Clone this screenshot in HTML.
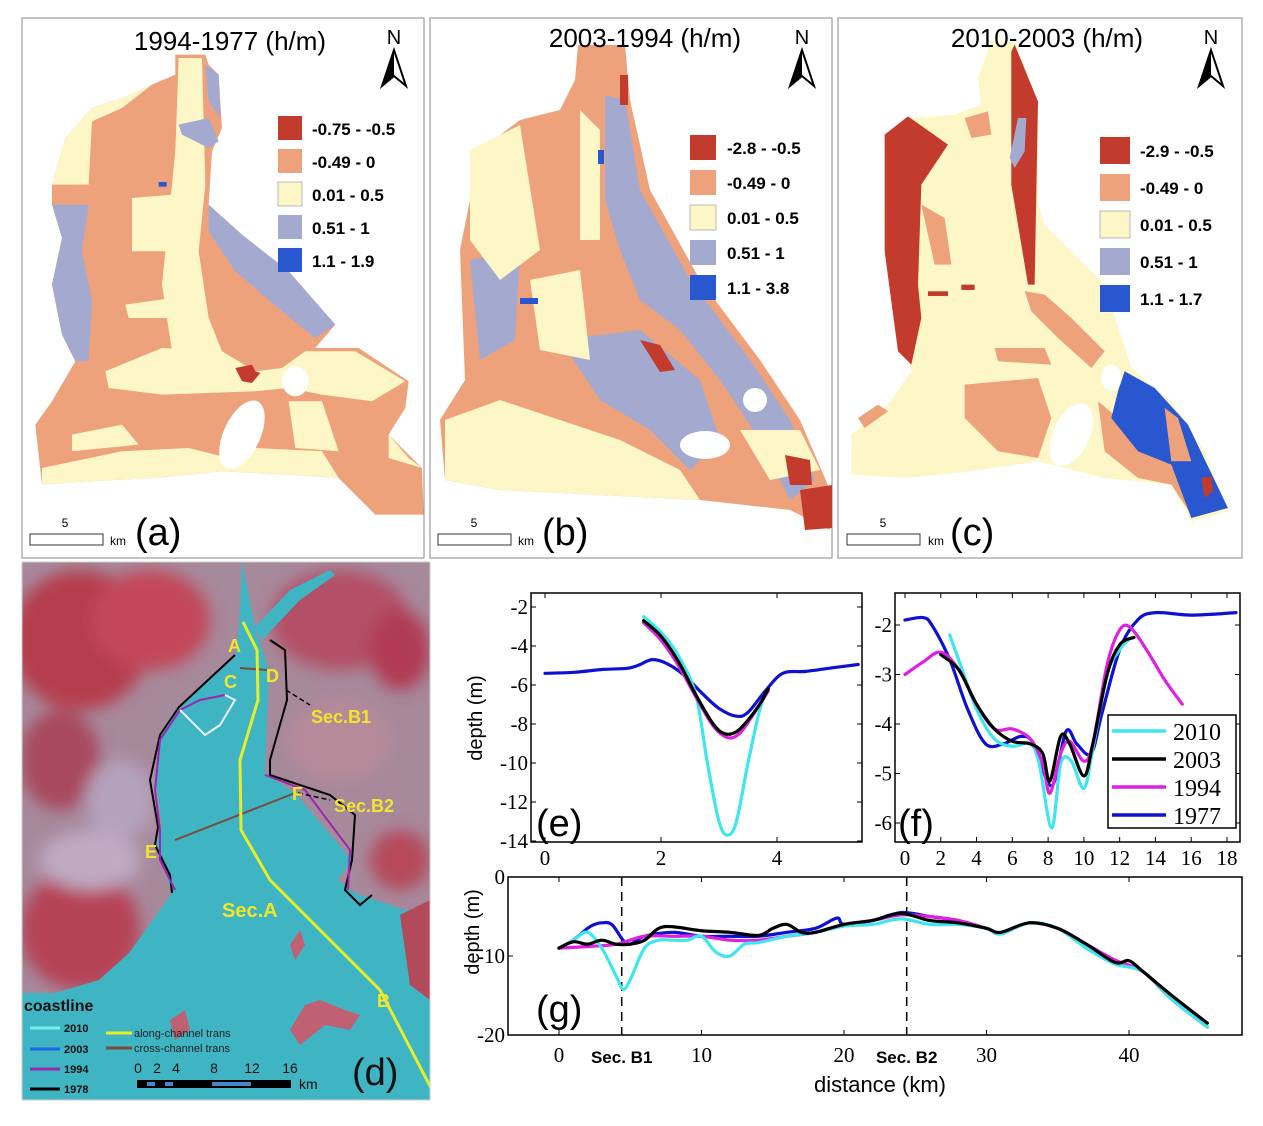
<!DOCTYPE html>
<html><head><meta charset="utf-8"><style>
html,body{margin:0;padding:0;background:#fff}
svg{display:block}
text{font-family:"Liberation Sans",sans-serif}
.serif{font-family:"Liberation Serif",serif}
</style></head><body>
<svg id="root" width="1263" height="1126" viewBox="0 0 1263 1126" xmlns="http://www.w3.org/2000/svg">
<defs>
<filter id="blur8"><feGaussianBlur stdDeviation="8"/></filter>
<clipPath id="clipd"><rect x="22" y="562" width="408" height="538"/></clipPath>
<g id="narrow"><polygon points="0,0 -12,36 0,26 12,36" fill="#fff" stroke="#000" stroke-width="2"/><polygon points="0,0 -12,36 0,26" fill="#000"/></g>
</defs>

<!-- PANEL A -->
<g>
<rect x="22" y="18" width="402" height="540" fill="#fff" stroke="#888" stroke-width="1"/>
<g transform="translate(22,18) scale(0.3333)">
<polygon fill="#eda27c" points="460,110 550,110 560,140 590,170 600,330 570,400 560,560 660,650 800,760 940,920 880,990 1010,990 1160,1090 1150,1170 1100,1250 1200,1350 1205,1490 1060,1490 950,1380 800,1370 600,1360 400,1380 200,1390 60,1400 40,1220 90,1150 160,1030 120,950 90,800 120,660 90,560 90,500 130,360 210,270 300,240 390,200 460,170"/>
<polygon fill="#fdf6c6" points="90,500 130,360 210,270 300,240 390,200 300,270 210,310 200,500"/>
<polygon fill="#fdf6c6" points="470,120 540,120 550,500 530,700 560,900 600,1000 560,1060 450,1000 420,800 440,600 460,400"/>
<polygon fill="#fdf6c6" points="250,1060 420,990 600,1000 700,1060 780,1050 850,1000 1000,1000 1150,1090 1050,1150 900,1130 800,1110 700,1120 420,1130 260,1110"/>
<polygon fill="#fdf6c6" points="330,540 450,530 440,700 330,700"/>
<polygon fill="#fdf6c6" points="310,860 450,840 460,900 320,900"/>
<polygon fill="#fdf6c6" points="60,1350 300,1300 500,1290 620,1320 700,1290 900,1300 950,1380 800,1370 600,1360 400,1380 200,1390 60,1400"/>
<polygon fill="#fdf6c6" points="1100,1250 1160,1320 1200,1350 1100,1320"/>
<polygon fill="#fdf6c6" points="150,1250 300,1220 350,1280 150,1300"/>
<polygon fill="#fdf6c6" points="800,1150 900,1150 950,1300 820,1290"/>
<polygon fill="#a4a9cf" points="560,560 660,650 800,760 940,920 880,960 780,880 640,760 560,640"/>
<polygon fill="#a4a9cf" points="90,560 200,560 180,700 210,850 200,1030 160,1030 120,950 90,800 120,660"/>
<polygon fill="#a4a9cf" points="470,320 560,300 590,370 560,390 480,350"/>
<polygon fill="#a4a9cf" points="550,140 590,170 595,300 560,250"/>
<polygon fill="#c33b2c" points="640,1050 690,1040 700,1060 715,1065 690,1095 660,1090"/>
<rect x="410" y="492" width="24" height="14" fill="#2957cf"/>
<ellipse cx="660" cy="1250" rx="55" ry="110" transform="rotate(25 660 1250)" fill="#fff"/>
<ellipse cx="820" cy="1090" rx="40" ry="45" fill="#fff"/>
</g>
<text x="230" y="50" font-size="26" text-anchor="middle">1994-1977 (h/m)</text>
<text x="394" y="44" font-size="20" text-anchor="middle">N</text>
<use href="#narrow" x="394" y="50"/>
<g font-size="17" font-weight="bold">
<rect x="278" y="116" width="24" height="24" fill="#c33b2c"/><text x="312" y="135">-0.75 - -0.5</text>
<rect x="278" y="149" width="24" height="24" fill="#eda27c"/><text x="312" y="168">-0.49 - 0</text>
<rect x="278" y="182" width="24" height="24" fill="#fdf6c6" stroke="#bbb"/><text x="312" y="201">0.01 - 0.5</text>
<rect x="278" y="215" width="24" height="24" fill="#a4a9cf"/><text x="312" y="234">0.51 - 1</text>
<rect x="278" y="248" width="24" height="24" fill="#2957cf"/><text x="312" y="267">1.1 - 1.9</text>
</g>
<rect x="30" y="534" width="73" height="11" fill="#fff" stroke="#333"/>
<text x="65" y="527" font-size="12" text-anchor="middle">5</text>
<text x="110" y="545" font-size="12">km</text>
<text x="135" y="545" font-size="38">(a)</text>
</g>

<!-- PANEL B -->
<g>
<rect x="430" y="18" width="402" height="540" fill="#fff" stroke="#888"/>
<polygon fill="#eda27c" points="578,45 625,45 630,100 650,190 700,280 760,360 800,420 830,490 830,530 790,510 700,500 600,495 500,490 445,480 440,420 465,380 460,250 480,150 520,120 560,110 575,80"/>
<polygon fill="#a4a9cf" points="605,95 625,100 640,190 690,280 750,360 790,420 815,480 790,500 760,440 720,380 680,330 640,300 620,250 605,200"/>
<polygon fill="#a4a9cf" points="560,340 640,330 700,380 720,440 690,470 650,430 600,400"/>
<polygon fill="#a4a9cf" points="470,260 520,250 515,340 480,360"/>
<polygon fill="#fdf6c6" points="445,420 500,400 560,420 620,440 680,470 700,500 600,495 500,490 445,480"/>
<polygon fill="#fdf6c6" points="470,150 520,125 540,250 500,280 470,240"/>
<polygon fill="#fdf6c6" points="530,280 580,270 590,360 540,350"/>
<polygon fill="#fdf6c6" points="740,430 800,430 820,470 770,480"/>
<polygon fill="#fdf6c6" points="580,110 600,130 600,240 580,240"/>
<ellipse cx="705" cy="445" rx="25" ry="14" fill="#fff"/>
<ellipse cx="755" cy="400" rx="12" ry="12" fill="#fff"/>
<polygon fill="#c33b2c" points="785,455 810,460 812,485 790,485"/>
<polygon fill="#c33b2c" points="800,490 832,485 832,528 805,530"/>
<polygon fill="#c33b2c" points="640,340 660,345 675,370 660,372"/>
<rect x="620" y="75" width="8" height="30" fill="#c33b2c"/>
<rect x="520" y="298" width="18" height="6" fill="#2957cf"/>
<rect x="598" y="150" width="6" height="14" fill="#2957cf"/>
<text x="645" y="47" font-size="26" text-anchor="middle">2003-1994 (h/m)</text>
<text x="802" y="44" font-size="20" text-anchor="middle">N</text>
<use href="#narrow" x="802" y="50"/>
<g font-size="17" font-weight="bold">
<rect x="690" y="135" width="26" height="25" fill="#c33b2c"/><text x="727" y="154">-2.8 - -0.5</text>
<rect x="690" y="170" width="26" height="25" fill="#eda27c"/><text x="727" y="189">-0.49 - 0</text>
<rect x="690" y="205" width="26" height="25" fill="#fdf6c6" stroke="#bbb"/><text x="727" y="224">0.01 - 0.5</text>
<rect x="690" y="240" width="26" height="25" fill="#a4a9cf"/><text x="727" y="259">0.51 - 1</text>
<rect x="690" y="275" width="26" height="25" fill="#2957cf"/><text x="727" y="294">1.1 - 3.8</text>
</g>
<rect x="438" y="534" width="73" height="11" fill="#fff" stroke="#333"/>
<text x="474" y="527" font-size="12" text-anchor="middle">5</text>
<text x="518" y="545" font-size="12">km</text>
<text x="542" y="545" font-size="38">(b)</text>
</g>

<!-- PANEL C -->
<g>
<rect x="838" y="18" width="404" height="540" fill="#fff" stroke="#888"/>
<g transform="translate(838,18) scale(0.3333)">
<polygon fill="#fdf6c6" points="460,70 530,70 600,250 600,560 620,620 800,800 880,1050 1000,1150 1100,1300 1170,1480 1060,1510 1000,1400 800,1380 600,1330 400,1360 200,1380 40,1370 40,1250 150,1160 220,1060 180,900 140,600 160,350 220,300 350,290 430,260 420,180"/>
<polygon fill="#eda27c" points="560,820 620,830 700,900 800,1000 760,1050 660,960 580,880"/>
<polygon fill="#eda27c" points="470,990 620,990 640,1040 480,1030"/>
<polygon fill="#eda27c" points="380,1100 600,1080 640,1200 600,1320 480,1300 380,1200"/>
<polygon fill="#eda27c" points="250,560 320,600 340,740 290,740 270,650"/>
<polygon fill="#eda27c" points="60,1200 120,1160 150,1180 80,1230"/>
<polygon fill="#eda27c" points="780,1150 900,1250 1000,1330 1060,1490 1000,1400 900,1380 800,1300"/>
<polygon fill="#eda27c" points="380,300 450,280 460,350 400,360"/>
<polygon fill="#c33b2c" points="210,295 330,380 250,500 240,800 250,900 220,1040 180,1000 140,700 140,350"/>
<polygon fill="#c33b2c" points="530,80 600,250 590,800 570,800 520,500 520,100"/>
<polygon fill="#a4a9cf" points="540,300 565,300 560,400 530,450 515,420"/>
<polygon fill="#2957cf" points="860,1060 950,1110 1050,1220 1170,1470 1060,1500 1000,1340 900,1300 820,1200 840,1120"/>
<polygon fill="#eda27c" points="980,1170 1020,1200 1060,1330 1000,1330"/>
<polygon fill="#c33b2c" points="1090,1380 1120,1375 1125,1420 1100,1440"/>
<rect x="270" y="820" width="60" height="14" fill="#c33b2c"/>
<rect x="370" y="800" width="40" height="16" fill="#c33b2c"/>
<ellipse cx="700" cy="1250" rx="55" ry="100" transform="rotate(25 700 1250)" fill="#fff"/>
<ellipse cx="820" cy="1080" rx="30" ry="40" fill="#fff"/>
</g>
<text x="1047" y="47" font-size="26" text-anchor="middle">2010-2003 (h/m)</text>
<text x="1211" y="44" font-size="20" text-anchor="middle">N</text>
<use href="#narrow" x="1211" y="50"/>
<g font-size="17" font-weight="bold">
<rect x="1100" y="137" width="30" height="27" fill="#c33b2c"/><text x="1140" y="157">-2.9 - -0.5</text>
<rect x="1100" y="174" width="30" height="27" fill="#eda27c"/><text x="1140" y="194">-0.49 - 0</text>
<rect x="1100" y="211" width="30" height="27" fill="#fdf6c6" stroke="#bbb"/><text x="1140" y="231">0.01 - 0.5</text>
<rect x="1100" y="248" width="30" height="27" fill="#a4a9cf"/><text x="1140" y="268">0.51 - 1</text>
<rect x="1100" y="285" width="30" height="27" fill="#2957cf"/><text x="1140" y="305">1.1 - 1.7</text>
</g>
<rect x="847" y="534" width="73" height="11" fill="#fff" stroke="#333"/>
<text x="883" y="527" font-size="12" text-anchor="middle">5</text>
<text x="928" y="545" font-size="12">km</text>
<text x="950" y="545" font-size="38">(c)</text>
</g>

<!-- PANEL D -->
<g clip-path="url(#clipd)">
<rect x="22" y="562" width="408" height="538" fill="#a7899c"/>
<g filter="url(#blur8)">
<ellipse cx="80" cy="640" rx="70" ry="70" fill="#b53c4e"/>
<ellipse cx="150" cy="620" rx="60" ry="50" fill="#c34658"/>
<ellipse cx="60" cy="760" rx="40" ry="50" fill="#a84a5e"/>
<ellipse cx="80" cy="930" rx="60" ry="60" fill="#b64256"/>
<ellipse cx="120" cy="800" rx="35" ry="40" fill="#b4a2bb"/>
<ellipse cx="90" cy="860" rx="50" ry="30" fill="#bfaac2"/>
<ellipse cx="340" cy="620" rx="70" ry="50" fill="#b35066"/>
<ellipse cx="400" cy="650" rx="30" ry="40" fill="#b13a52"/>
<ellipse cx="340" cy="740" rx="50" ry="40" fill="#b78a9a"/>
<ellipse cx="400" cy="860" rx="30" ry="30" fill="#b64a5c"/>
<ellipse cx="420" cy="960" rx="25" ry="40" fill="#b24a5c"/>
</g>
<polygon fill="#3fb4c3" points="222,560 242,560 239,627 235,657 179,707 162,733 155,777 162,827 155,843 172,893 129,953 99,980 55,993 22,993 22,1100 430,1100 430,910 405,910 355,893 338,880 352,860 295,793 265,773 269,670 255,627 242,560"/>
<polygon fill="#3fb4c3" points="255,627 290,590 330,570 335,575 300,600 262,640"/>
<polygon fill="#c06073" points="290,1030 305,1005 320,1000 345,1010 360,1015 350,1030 325,1025 300,1045"/>
<polygon fill="#c06073" points="170,1020 185,1010 190,1030 175,1040"/>
<polygon fill="#c06073" points="290,945 300,930 305,945 295,960"/>
<polygon fill="#b24a5c" points="400,915 430,900 430,1000 410,985"/>
<polyline fill="none" stroke="#000" stroke-width="2" points="235,655 179,707 160,735 150,780 158,827 155,845 170,875 172,893"/>
<polyline fill="none" stroke="#9c27b0" stroke-width="2" points="225,695 200,700 180,710 160,740 155,790 160,830 160,860 175,890"/>
<polyline fill="none" stroke="#000" stroke-width="2" points="270,640 285,650 287,700 270,760 270,775 330,795 355,815 352,860 345,890 360,905 372,895"/>
<polyline fill="none" stroke="#9c27b0" stroke-width="2" points="265,775 305,790 350,850 348,890"/>
<polyline fill="none" stroke="#e8f3ff" stroke-width="2" points="225,695 235,700 220,725 205,735 180,710"/>
<line x1="175" y1="840" x2="295" y2="793" stroke="#7a4b3a" stroke-width="2"/>
<line x1="240" y1="668" x2="267" y2="670" stroke="#7a4b3a" stroke-width="2"/>
<line x1="286" y1="690" x2="310" y2="705" stroke="#000" stroke-width="1.5" stroke-dasharray="5,3"/>
<line x1="298" y1="793" x2="330" y2="800" stroke="#000" stroke-width="1.5" stroke-dasharray="5,3"/>
<polyline fill="none" stroke="#e6ee2a" stroke-width="3" points="243,622 257,650 258,700 240,760 241,830 270,880 290,900 380,990 432,1090"/>
<g fill="#f2e62a" font-weight="bold" font-size="18">
<text x="228" y="652">A</text><text x="224" y="688">C</text><text x="266" y="682">D</text>
<text x="311" y="723">Sec.B1</text><text x="292" y="800">F</text><text x="334" y="812">Sec.B2</text>
<text x="145" y="858">E</text><text x="222" y="917" font-size="20">Sec.A</text><text x="377" y="1007">B</text>
</g>
<g font-size="11" font-weight="bold" fill="#111">
<text x="24" y="1011" font-size="16">coastline</text>
<line x1="30" y1="1028" x2="60" y2="1028" stroke="#7ee" stroke-width="3"/><text x="64" y="1032">2010</text>
<line x1="30" y1="1049" x2="60" y2="1049" stroke="#1e64e6" stroke-width="3"/><text x="64" y="1053">2003</text>
<line x1="30" y1="1069" x2="60" y2="1069" stroke="#9c27b0" stroke-width="3"/><text x="64" y="1073">1994</text>
<line x1="30" y1="1089" x2="60" y2="1089" stroke="#000" stroke-width="3"/><text x="64" y="1093">1978</text>
<line x1="106" y1="1033" x2="132" y2="1033" stroke="#e6ee2a" stroke-width="3"/><text x="134" y="1037" font-weight="normal" fill="#222">along-channel trans</text>
<line x1="106" y1="1048" x2="132" y2="1048" stroke="#7a4b3a" stroke-width="3"/><text x="134" y="1052" font-weight="normal" fill="#222">cross-channel trans</text>
<g font-weight="normal" font-size="14" text-anchor="middle">
<text x="138" y="1073">0</text><text x="157" y="1073">2</text><text x="176" y="1073">4</text><text x="214" y="1073">8</text><text x="252" y="1073">12</text><text x="290" y="1073">16</text>
</g>
<rect x="137" y="1080" width="154" height="8" fill="#000"/>
<rect x="147" y="1082" width="8" height="4" fill="#48c"/><rect x="165" y="1082" width="8" height="4" fill="#48c"/><rect x="212" y="1082" width="39" height="4" fill="#48c"/>
<text x="299" y="1089" font-weight="normal" font-size="14">km</text>
</g>
<text x="352" y="1085" font-size="38" fill="#111">(d)</text>
</g>
<rect x="22" y="562" width="408" height="538" fill="none" stroke="#ccc"/>

<g id="charts"></g>
</svg>
<script>
// ===== Chart e data =====
const eX2010=[1.7,2.0,2.3,2.6,2.8,3.0,3.15,3.3,3.5,3.7,3.8];
const eY2010=[-2.5,-3.3,-4.5,-6.5,-10,-13,-13.7,-13,-10,-7.3,-6.5];
const eX2003=[1.7,2.0,2.3,2.6,2.9,3.1,3.3,3.5,3.7,3.85];
const eY2003=[-2.7,-3.5,-4.8,-6.5,-8,-8.5,-8.4,-7.8,-7,-6.2];
const eX1994=[1.7,2.0,2.3,2.6,2.9,3.15,3.35,3.55,3.7,3.85];
const eY1994=[-2.8,-3.7,-5,-6.6,-8.1,-8.7,-8.5,-7.7,-7,-6.3];
const eX1977=[0,0.5,1,1.4,1.6,1.85,2.1,2.4,2.7,3.0,3.3,3.5,3.8,4.1,4.5,5,5.4];
const eY1977=[-5.4,-5.35,-5.2,-5.15,-5,-4.7,-4.9,-5.5,-6.4,-7.2,-7.6,-7.4,-6.3,-5.4,-5.3,-5.1,-4.95];
const eXTicks=[0,2,4];
const eYTicks=[-2,-4,-6,-8,-10,-12,-14];
// ===== Chart f data =====
const fX1977=[0,1,1.5,2.5,3.5,4.5,5.5,6.5,7.2,8.2,9,9.6,10.4,11,12,13,14,16,18.5];
const fY1977=[-1.9,-1.85,-2,-2.7,-3.7,-4.4,-4.4,-4.25,-4.4,-5.25,-4.15,-4.4,-4.6,-3.8,-2.5,-1.9,-1.75,-1.8,-1.75];
const fX2010=[2.5,3,4,5,6,7,7.5,8.2,8.7,9.3,10,10.5,11.3,12,12.5];
const fY2010=[-2.2,-2.7,-3.7,-4.3,-4.45,-4.4,-4.8,-6.1,-4.8,-4.75,-5.3,-4.5,-3,-2.5,-2.3];
const fX2003=[2,3,4,5,6,7,7.7,8.1,8.7,9.2,10,10.5,11.3,12,12.8];
const fY2003=[-2.6,-2.9,-3.6,-4.1,-4.35,-4.4,-4.6,-5.15,-4.25,-4.4,-5.05,-4.4,-3,-2.4,-2.25];
const fX1994=[0,1,2,3,4,5,6,7,7.7,8.1,8.7,9.2,10,10.5,11.3,12,12.6,13.5,14.5,15.5];
const fY1994=[-3,-2.75,-2.55,-2.9,-3.6,-4.1,-4.1,-4.3,-4.8,-5.4,-4.6,-4.35,-4.75,-4.4,-2.8,-2.1,-2.05,-2.5,-3.1,-3.6];
const fXTicks=[0,2,4,6,8,10,12,14,16,18];
const fYTicks=[-2,-3,-4,-5,-6];
// ===== Chart g data =====
const gX2010=[0,1,2,3,4,4.5,5,6,7,8,9,10,11,12,13,14,16,18,20,22,24,26,28,30,31,33,35,37,39,41,43,45.5];
const gY2010=[-9,-8,-7,-9,-12.5,-14.2,-13,-9,-8,-8,-8,-7.5,-9.5,-10,-8.5,-8.3,-7.5,-7,-6.2,-6,-5.3,-6,-6,-6.5,-7.2,-5.8,-6.5,-9,-11,-12,-15.5,-19];
const gX1977=[0,1,2,2.5,3,3.7,4.5,5,6,8,10,12,14,16,18,19.5,20,22,24,26,28,30];
const gY1977=[-9,-8,-6.5,-6,-5.8,-6,-8,-8.5,-7.5,-7,-7.5,-7.5,-7.5,-7,-6.5,-5.2,-6,-5.5,-4.5,-5,-5.5,-6.5];
const gX1994=[0,2,4,6,8,10,12,14,16,18,20,22,24,26,28,30,31,33,35,37,39,41,43,45.5];
const gY1994=[-9,-8.8,-8.5,-7.5,-7.5,-7.5,-8,-8,-7.5,-7,-6,-5.5,-4.8,-5,-5.5,-6.5,-7.2,-5.8,-6.5,-8.5,-10.5,-12,-15.5,-19];
const gX2003=[0,1,2,3,4,5,6,7,8,10,12,14,15,16,17,18,20,22,24,26,28,30,31,33,35,37,39,40,41,43,45.5];
const gY2003=[-9,-8.2,-8.5,-8,-8.5,-8.5,-8,-6.5,-6.3,-6.8,-7,-7.4,-6.5,-6,-7,-7,-6,-5.5,-4.6,-5.5,-5.8,-6.5,-7,-5.8,-6.5,-8.5,-10.8,-10.6,-12,-15,-18.5];
const gXTicks=[0,10,20,30,40];
const gYTicks=[0,-10,-20];
const gSections=[4.4,24.4];
const gSectionLabels=['Sec. B1','Sec. B2'];
const seriesNames=['2010','2003','1994','1977'];
const seriesColors=['#3ee6ee','#000000','#e020e0','#1010d0'];

const NS='http://www.w3.org/2000/svg';
const root=document.getElementById('charts');
function mk(tag,attrs,parent){const e=document.createElementNS(NS,tag);for(const k in attrs)e.setAttribute(k,attrs[k]);(parent||root).appendChild(e);return e;}
function lin(d0,d1,r0,r1){return v=>r0+(v-d0)*(r1-r0)/(d1-d0);}
function pathD(xs,ys,sx,sy){
  const p=xs.map((x,i)=>[sx(x),sy(ys[i])]);
  let d='M'+p[0][0]+','+p[0][1];
  for(let i=0;i<p.length-1;i++){
    const p0=p[i-1]||p[i],p1=p[i],p2=p[i+1],p3=p[i+2]||p2;
    const c1=[p1[0]+(p2[0]-p0[0])/6,p1[1]+(p2[1]-p0[1])/6];
    const c2=[p2[0]-(p3[0]-p1[0])/6,p2[1]-(p3[1]-p1[1])/6];
    d+=' C'+c1+' '+c2+' '+p2;
  }
  return d;
}
function axes(g,box,sx,sy,xt,yt,fs){
  const r=mk('rect',{x:box[0],y:box[1],width:box[2]-box[0],height:box[3]-box[1],fill:'#fff',stroke:'#000','stroke-width':1.5},g);
  
  
  xt.forEach(v=>{const x=sx(v);mk('line',{x1:x,x2:x,y1:box[3],y2:box[3]-5,stroke:'#000'},g);mk('line',{x1:x,x2:x,y1:box[1],y2:box[1]+5,stroke:'#000'},g);
    const t=mk('text',{x:x,y:box[3]+fs+2,'font-size':fs,'text-anchor':'middle',class:'serif'},g);t.textContent=v;
    
    });
  yt.forEach(v=>{const y=sy(v);mk('line',{x1:box[0],x2:box[0]+5,y1:y,y2:y,stroke:'#000'},g);mk('line',{x1:box[2],x2:box[2]-5,y1:y,y2:y,stroke:'#000'},g);
    const t=mk('text',{x:box[0]-3,y:y+7,'font-size':fs,'text-anchor':'end',class:'serif'},g);t.textContent=v;
    
    });
}
function line(g,xs,ys,sx,sy,color,name){
  const p=mk('path',{d:pathD(xs,ys,sx,sy),fill:'none',stroke:color,'stroke-width':3.2,'stroke-linejoin':'round','stroke-linecap':'round'},g);
  
  
}
// chart e
{const g=mk('g',{});


const box=[531,593,862,842];const sx=lin(0,1,545,603);const sy=lin(-2,-14,607,841);
axes(g,box,sx,sy,eXTicks,eYTicks,21);
line(g,eX1977,eY1977,sx,sy,seriesColors[3],'line-e-1977');
line(g,eX2010,eY2010,sx,sy,seriesColors[0],'line-e-2010');
line(g,eX1994,eY1994,sx,sy,seriesColors[2],'line-e-1994');
line(g,eX2003,eY2003,sx,sy,seriesColors[1],'line-e-2003');
const t=mk('text',{x:536,y:836,'font-size':38},g);t.textContent='(e)';
const yl=mk('text',{x:0,y:0,'font-size':20,transform:'translate(482,718) rotate(-90)','text-anchor':'middle'},g);yl.textContent='depth (m)';

}
// chart f
{const g=mk('g',{});


const box=[895,593,1240,842];const sx=lin(0,18,905,1227);const sy=lin(-2,-6,625,823);
axes(g,box,sx,sy,fXTicks,fYTicks,21);
line(g,fX1977,fY1977,sx,sy,seriesColors[3],'line-f-1977');
line(g,fX2010,fY2010,sx,sy,seriesColors[0],'line-f-2010');
line(g,fX1994,fY1994,sx,sy,seriesColors[2],'line-f-1994');
line(g,fX2003,fY2003,sx,sy,seriesColors[1],'line-f-2003');
const t=mk('text',{x:898,y:836,'font-size':38},g);t.textContent='(f)';
const lg=mk('g',{},g);


mk('rect',{x:1108,y:715,width:128,height:113,fill:'#fff',stroke:'#000','stroke-width':1.5},lg);
seriesNames.forEach((n,i)=>{const y=731+i*28;
 mk('line',{x1:1112,x2:1166,y1:y,y2:y,stroke:seriesColors[i],'stroke-width':3.5},lg);
 const tx=mk('text',{x:1173,y:y+9,'font-size':24,class:'serif'},lg);tx.textContent=n;
 
 });}
// chart g
{const g=mk('g',{});


const box=[508,877,1242,1035];const sx=lin(0,10,559,701.5);const sy=lin(0,-20,877,1035);
mk('rect',{x:box[0],y:box[1],width:box[2]-box[0],height:box[3]-box[1],fill:'#fff',stroke:'#000','stroke-width':1.5},g);
gXTicks.forEach(v=>{const x=sx(v);mk('line',{x1:x,x2:x,y1:box[3],y2:box[3]-5,stroke:'#000'},g);mk('line',{x1:x,x2:x,y1:box[1],y2:box[1]+5,stroke:'#000'},g);
 const t=mk('text',{x:x,y:box[3]+27,'font-size':21,'text-anchor':'middle',class:'serif'},g);t.textContent=v;
 
 });
gYTicks.forEach(v=>{const y=sy(v);mk('line',{x1:box[0],x2:box[0]+5,y1:y,y2:y,stroke:'#000'},g);mk('line',{x1:box[2],x2:box[2]-5,y1:y,y2:y,stroke:'#000'},g);
 const t=mk('text',{x:box[0]-3,y:y+7,'font-size':21,'text-anchor':'end',class:'serif'},g);t.textContent=v;
 
 });
gSections.forEach((s,i)=>{const x=sx(s);mk('line',{x1:x,x2:x,y1:box[1],y2:box[3],stroke:'#000','stroke-width':1.5,'stroke-dasharray':'9,6'},g);
 const t=mk('text',{x:x,y:box[3]+28,'font-size':17,'font-weight':'bold','text-anchor':'middle'},g);t.textContent=gSectionLabels[i];
 
 });
line(g,gX1977,gY1977,sx,sy,seriesColors[3],'line-g-1977');
line(g,gX1994,gY1994,sx,sy,seriesColors[2],'line-g-1994');
line(g,gX2010,gY2010,sx,sy,seriesColors[0],'line-g-2010');
line(g,gX2003,gY2003,sx,sy,seriesColors[1],'line-g-2003');
const t=mk('text',{x:536,y:1022,'font-size':38},g);t.textContent='(g)';
const yl=mk('text',{x:0,y:0,'font-size':20,transform:'translate(479,932) rotate(-90)','text-anchor':'middle'},g);yl.textContent='depth (m)';


const xl=mk('text',{x:880,y:1092,'font-size':22,'text-anchor':'middle'},g);xl.textContent='distance (km)';

}
</script>
</body></html>
